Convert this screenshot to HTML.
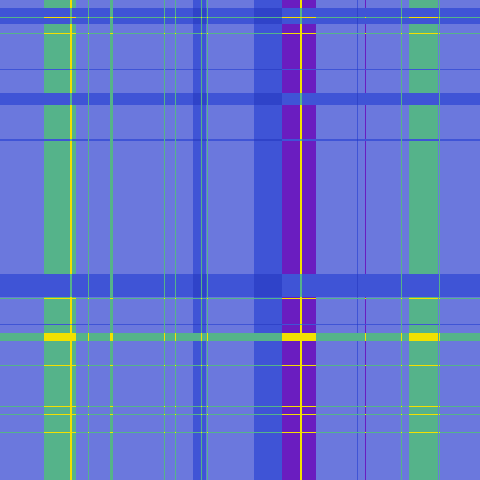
<!DOCTYPE html>
<html><head><meta charset="utf-8"><style>
html,body{margin:0;padding:0;background:#6b78dd;}
svg{display:block;}
</style></head><body>
<svg id="plaid" width="480" height="480" viewBox="0 0 480 480" shape-rendering="crispEdges"></svg>
<script>
// stripe definitions: [start, end, type]
// types: 0 base,1 blue band,2 green band,3 yellow,4 purple,5 thin blue,6 thin green
const colStripes = [
  [44,76,2],[70,72,3],[88,89,6],[110,113,6],[164,165,6],[175,176,6],
  [193,206,1],[201,202,6],[207,208,6],[254,282,1],[278,280,5],
  [282,316,4],[300,302,3],[357,358,5],[365,366,4],[401,402,6],
  [409,438,2],[439,440,6]
];
const rowStripes = [
  [8,24,1],[17,18,6],[33,34,6],[69,70,5],[93,105,1],[139,141,5],
  [274,297,1],[298,299,6],[324,325,5],[333,341,2],[365,366,6],
  [406,407,6],[414,415,6],[432,433,6]
];
const palette = {base:'#6b78dd',blue:'#3f54d6',dark:'#2f43c9',green:'#55b38a',yellow:'#f2e100',purple:'#6a1dc0'};
function own(t){return [palette.base,palette.blue,palette.green,palette.yellow,palette.purple,palette.blue,palette.green][t];}
function cellColor(c,r){
  if(r===0) return own(c);
  if(c===0) return own(r);
  const rb=(r===1||r===5), rg=(r===2||r===6);
  if(rb){
    if(c===2) return palette.blue;
    if(c===3||c===6) return palette.green;
    if(c===1||c===5) return palette.dark;
    if(c===4) return palette.blue;
  }
  if(rg){
    if(c===2||c===3||c===4||c===6) return palette.yellow;
    if(c===1||c===5) return palette.green;
  }
  return own(r);
}
function typeArray(stripes){
  const a=new Array(480).fill(0);
  stripes.forEach(s=>{for(let i=s[0];i<s[1];i++)a[i]=s[2];});
  return a;
}
function runs(a){
  const out=[];let s=0;
  for(let i=1;i<=a.length;i++){if(i===a.length||a[i]!==a[s]){out.push([s,i,a[s]]);s=i;}}
  return out;
}
const svg=document.getElementById('plaid');
const NS='http://www.w3.org/2000/svg';
const cr=runs(typeArray(colStripes)), rr=runs(typeArray(rowStripes));
rr.forEach(r=>{cr.forEach(c=>{
  const el=document.createElementNS(NS,'rect');
  
  
  el.setAttribute('x',c[0]);el.setAttribute('y',r[0]);
  el.setAttribute('width',c[1]-c[0]);el.setAttribute('height',r[1]-r[0]);
  el.setAttribute('fill',cellColor(c[2],r[2]));
  svg.appendChild(el);
});});
</script>
</body></html>
